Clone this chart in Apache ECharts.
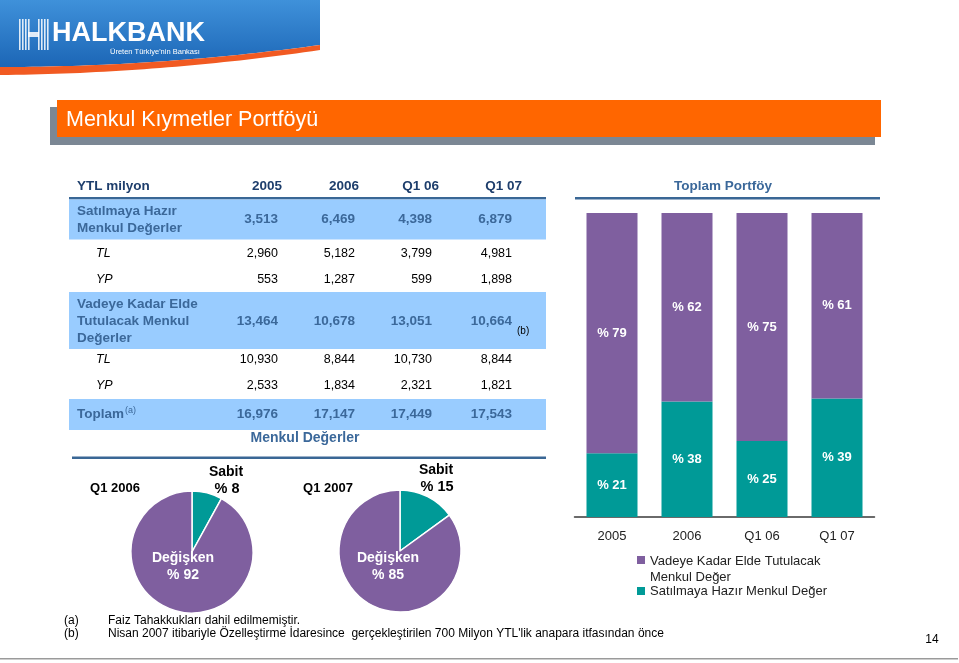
<!DOCTYPE html>
<html><head><meta charset="utf-8">
<script src="https://cdn.jsdelivr.net/npm/echarts@6/dist/echarts.min.js"></script>
<style>html,body{margin:0;padding:0;background:#fff}#c{width:959px;height:663px}</style>
</head><body><div id="c"></div>
<script>
// ---- data ----
const barCategories = ['2005', '2006', 'Q1 06', 'Q1 07'];
const vadeyeShare = [79, 62, 75, 61];
const satilmayaShare = [21, 38, 25, 39];
const tableColumns = ['2005', '2006', 'Q1 06', 'Q1 07'];
const satilmayaTotal = ['3,513', '6,469', '4,398', '6,879'];
const satilmayaTL = ['2,960', '5,182', '3,799', '4,981'];
const satilmayaYP = ['553', '1,287', '599', '1,898'];
const vadeyeTotal = ['13,464', '10,678', '13,051', '10,664'];
const vadeyeTL = ['10,930', '8,844', '10,730', '8,844'];
const vadeyeYP = ['2,533', '1,834', '2,321', '1,821'];
const toplamTotal = ['16,976', '17,147', '17,449', '17,543'];
const pieQ12006 = [{ name: 'Sabit', value: 8 }, { name: 'Değişken', value: 92 }];
const pieQ12007 = [{ name: 'Sabit', value: 15 }, { name: 'Değişken', value: 85 }];
const legendNames = ['Vadeye Kadar Elde Tutulacak\nMenkul Değer', 'Satılmaya Hazır Menkul Değer'];

// ---- styles ----
const F = 'Arial, "Liberation Sans", Helvetica, sans-serif';
const NAVY = '#1e3e6c';
const BTXT = '#3b689a';
const PURPLE = '#7f5f9f';
const TEAL = '#009a97';
const BAND = '#99ccff';
const LINE = '#3a6795';

const g = [];
function txt(x, y, text, o) {
  const st = Object.assign({ text: text, fill: '#000', fontSize: 13, fontFamily: F, fontWeight: 'normal',
    align: 'left', verticalAlign: 'middle' }, o || {});
  st.textAlign = st.align; st.textVerticalAlign = st.verticalAlign;
  g.push({ type: 'text', x: x, y: y, silent: true, z: 10, style: st });
}
function rect(x, y, w, h, fill, z) {
  g.push({ type: 'rect', silent: true, z: z || 1, shape: { x: x, y: y, width: w, height: h }, style: { fill: fill } });
}

// ---- logo banner ----
(function () {
  const orng = [];
  const N = 40;
  function yb(x) { const t = x / 320; return 67 - 22 * t * t; }
  const blue = [[0, 0], [320, 0]];
  for (let i = N; i >= 0; i--) { const x = 320 * i / N; blue.push([x, yb(x)]); }
  g.push({ type: 'polygon', silent: true, z: 1, shape: { points: blue },
    style: { fill: new echarts.graphic.LinearGradient(0, 0, 0, 1, [{ offset: 0, color: '#3f91da' }, { offset: 1, color: '#1c66b6' }]) } });
  for (let i = 0; i <= N; i++) { const x = 320 * i / N; orng.push([x, yb(x)]); }
  for (let i = N; i >= 0; i--) { const x = 320 * i / N; orng.push([x, yb(x) + 8 - 3 * (x / 320)]); }
  g.push({ type: 'polygon', silent: true, z: 2, shape: { points: orng }, style: { fill: '#f15a22' } });
  const xs = [19, 22, 25, 28, 38, 41, 44, 47];
  xs.forEach(function (x) { rect(x, 19, 1.6, 31, 'rgba(255,255,255,0.85)', 3); });
  rect(28, 32, 11, 5, 'rgba(255,255,255,0.85)', 3);
  txt(52, 34, 'HALKBANK', { fill: '#ffffff', fontSize: 27, fontWeight: 'bold' });
  txt(110, 52, 'Üreten Türkiye\'nin Bankası', { fill: '#ffffff', fontSize: 7.5 });
})();

// ---- title bar ----
rect(50, 107, 825, 38, '#7b8794', 1);
rect(57, 100, 824, 37, '#ff6600', 2);
txt(66, 120, 'Menkul Kıymetler Portföyü', { fill: '#ffffff', fontSize: 21.5 });

// ---- table ----
const colRight = [278, 355, 432, 512];
const headRight = [282, 359, 439, 522];
txt(77, 186, 'YTL milyon', { fill: NAVY, fontSize: 13.5, fontWeight: 'bold' });
tableColumns.forEach(function (c, i) { txt(headRight[i], 186, c, { fill: NAVY, fontSize: 13.5, fontWeight: 'bold', align: 'right' }); });
rect(69, 197, 477, 2.5, LINE);
rect(69, 199.5, 477, 40, BAND);
txt(77, 211, 'Satılmaya Hazır', { fill: BTXT, fontSize: 13.5, fontWeight: 'bold' });
txt(77, 228, 'Menkul Değerler', { fill: BTXT, fontSize: 13.5, fontWeight: 'bold' });
satilmayaTotal.forEach(function (v, i) { txt(colRight[i], 219, v, { fill: BTXT, fontSize: 13.5, fontWeight: 'bold', align: 'right' }); });
function subRow(y, label, arr) {
  txt(96, y, label, { fontSize: 12.5, fontStyle: 'italic' });
  arr.forEach(function (v, i) { txt(colRight[i], y, v, { fontSize: 12.5, align: 'right' }); });
}
subRow(254, 'TL', satilmayaTL);
subRow(280, 'YP', satilmayaYP);
rect(69, 292, 477, 57, BAND);
txt(77, 304, 'Vadeye Kadar Elde', { fill: BTXT, fontSize: 13.5, fontWeight: 'bold' });
txt(77, 321, 'Tutulacak Menkul', { fill: BTXT, fontSize: 13.5, fontWeight: 'bold' });
txt(77, 338, 'Değerler', { fill: BTXT, fontSize: 13.5, fontWeight: 'bold' });
vadeyeTotal.forEach(function (v, i) { txt(colRight[i], 321, v, { fill: BTXT, fontSize: 13.5, fontWeight: 'bold', align: 'right' }); });
txt(517, 331, '(b)', { fontSize: 10 });
subRow(360, 'TL', vadeyeTL);
subRow(386, 'YP', vadeyeYP);
rect(69, 399, 477, 31, BAND);
txt(77, 414, 'Toplam', { fill: BTXT, fontSize: 13.5, fontWeight: 'bold' });
txt(125, 411, '(a)', { fill: BTXT, fontSize: 9 });
toplamTotal.forEach(function (v, i) { txt(colRight[i], 414, v, { fill: BTXT, fontSize: 13.5, fontWeight: 'bold', align: 'right' }); });
txt(305, 438, 'Menkul Değerler', { fill: BTXT, fontSize: 14, fontWeight: 'bold', align: 'center' });
rect(72, 456.5, 474, 2.5, LINE);

// ---- bar chart header ----
txt(723, 186, 'Toplam Portföy', { fill: BTXT, fontSize: 13.5, fontWeight: 'bold', align: 'center' });
rect(575, 197, 305, 2.5, LINE);

// ---- legend ----
rect(637, 556, 8, 8, PURPLE, 3);
txt(650, 561, 'Vadeye Kadar Elde Tutulacak', { fontSize: 13, fill: '#222' });
txt(650, 577, 'Menkul Değer', { fontSize: 13, fill: '#222' });
rect(637, 587, 8, 8, TEAL, 3);
txt(650, 591, 'Satılmaya Hazır Menkul Değer', { fontSize: 13, fill: '#222' });

// ---- pie labels ----
function pieLabels(cx, title, data, tx, sx, sy) {
  txt(tx, 488, title, { fontSize: 13, fontWeight: 'bold', align: 'center' });
  txt(sx, sy, data[0].name, { fontSize: 14, fontWeight: 'bold', align: 'center' });
  txt(sx + 1, sy + 17, '% ' + data[0].value, { fontSize: 14.5, fontWeight: 'bold', align: 'center' });
  txt(cx - 9, 558, data[1].name, { fontSize: 14, fontWeight: 'bold', align: 'center', fill: '#fff' });
  txt(cx - 9, 575, '% ' + data[1].value, { fontSize: 14, fontWeight: 'bold', align: 'center', fill: '#fff' });
}
pieLabels(192, 'Q1 2006', pieQ12006, 115, 226, 472);
pieLabels(397, 'Q1 2007', pieQ12007, 328, 436, 470);

// ---- footnotes ----
txt(64, 621, '(a)', { fontSize: 12 });
txt(108, 621, 'Faiz Tahakkukları dahil edilmemiştir.', { fontSize: 12 });
txt(64, 634, '(b)', { fontSize: 12 });
txt(108, 634, 'Nisan 2007 itibariyle Özelleştirme İdaresince  gerçekleştirilen 700 Milyon YTL\'lik anapara itfasından önce', { fontSize: 12 });
txt(932, 640, '14', { fontSize: 12, align: 'center' });
rect(0, 658, 958, 1.5, '#9a9a9a');

function colorize(arr) {
  return arr.map(function (d, i) { return { name: d.name, value: d.value, itemStyle: { color: i === 0 ? TEAL : PURPLE } }; });
}
function barLabel() {
  return { show: true, position: 'inside', color: '#fff', fontSize: 13, fontWeight: 'bold', fontFamily: F,
    formatter: function (p) { return '% ' + p.value; } };
}

const chart = echarts.init(document.getElementById('c'));
chart.setOption({
  animation: false,
  backgroundColor: '#ffffff',
  grid: { left: 574.5, width: 300, top: 213, height: 304 },
  xAxis: { type: 'category', data: barCategories,
    axisLine: { lineStyle: { color: '#3a3a3a', width: 1.5 } }, axisTick: { show: false },
    axisLabel: { color: '#222', fontSize: 13, fontFamily: F, margin: 13 } },
  yAxis: { type: 'value', min: 0, max: 100, show: false },
  series: [
    { type: 'bar', name: legendNames[1], stack: 's', data: satilmayaShare, barWidth: 51,
      itemStyle: { color: TEAL }, label: barLabel(), silent: true },
    { type: 'bar', name: legendNames[0], stack: 's', data: vadeyeShare, barWidth: 51,
      itemStyle: { color: PURPLE }, label: barLabel(), silent: true },
    { type: 'pie', center: [192, 552], radius: 61, startAngle: 90, clockwise: true, silent: true,
      label: { show: false }, labelLine: { show: false }, emphasis: { disabled: true },
      itemStyle: { borderColor: '#fff', borderWidth: 1.5 }, data: colorize(pieQ12006) },
    { type: 'pie', center: [400, 551], radius: 61, startAngle: 90, clockwise: true, silent: true,
      label: { show: false }, labelLine: { show: false }, emphasis: { disabled: true },
      itemStyle: { borderColor: '#fff', borderWidth: 1.5 }, data: colorize(pieQ12007) }
  ],
  graphic: { elements: g }
});
</script>
</body></html>
